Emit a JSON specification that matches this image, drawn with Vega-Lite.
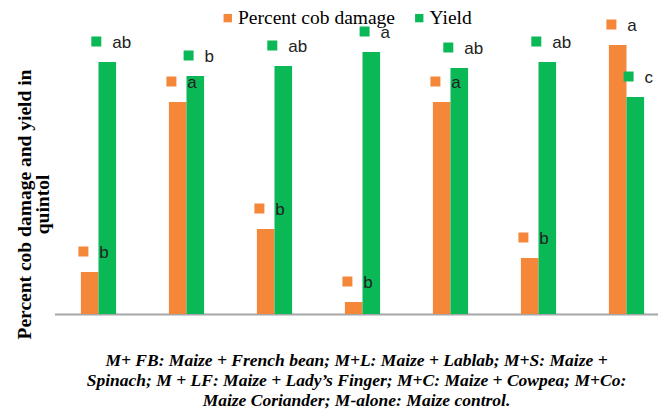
{
  "$schema": "https://vega.github.io/schema/vega-lite/v6.json",
  "width": 603.5,
  "height": 300,
  "autosize": {"type": "none"},
  "padding": {"left": 54.5, "top": 14, "right": 0, "bottom": 95},
  "background": "white",
  "config": {"view": {"stroke": null}, "font": "Liberation Serif, Times New Roman, Tinos, serif"},
  "resolve": {"axis": {"y": "independent"}},
  "data": {
    "values": [
      {"treatment": "M+FB", "damage": 4.2, "yield": 25.2, "sigDamage": "b", "sigYield": "ab"},
      {"treatment": "M+L", "damage": 21.2, "yield": 23.8, "sigDamage": "a", "sigYield": "b"},
      {"treatment": "M+S", "damage": 8.5, "yield": 24.8, "sigDamage": "b", "sigYield": "ab"},
      {"treatment": "M+LF", "damage": 1.2, "yield": 26.2, "sigDamage": "b", "sigYield": "a"},
      {"treatment": "M+C", "damage": 21.2, "yield": 24.6, "sigDamage": "a", "sigYield": "ab"},
      {"treatment": "M+Co", "damage": 5.6, "yield": 25.2, "sigDamage": "b", "sigYield": "ab"},
      {"treatment": "M-alone", "damage": 26.9, "yield": 21.7, "sigDamage": "a", "sigYield": "c"}
    ]
  },
  "encoding": {
    "x": {
      "field": "treatment",
      "type": "nominal",
      "sort": null,
      "scale": {"range": [0, 616], "paddingInner": 0.6, "paddingOuter": 0.3},
      "axis": {
        "labels": false,
        "ticks": false,
        "domainColor": "#a6a6a6",
        "domainWidth": 2,
        "title": [
          "M+ FB: Maize + French bean; M+L: Maize + Lablab; M+S: Maize +",
          "Spinach; M + LF: Maize + Lady’s Finger; M+C: Maize + Cowpea; M+Co:",
          "Maize Coriander; M-alone: Maize control."
        ],
        "titleFont": "Liberation Serif, Times New Roman, Tinos, serif",
        "titleFontSize": 17.5,
        "titleFontWeight": "bold",
        "titleFontStyle": "italic",
        "titleColor": "#000000",
        "titleLineHeight": 20.3,
        "titleAlign": "center",
        "titleX": 301.5,
        "titleY": 51,
        "titleBaseline": "alphabetic"
      }
    }
  },
  "layer": [
    {
      "mark": {"type": "bar", "width": 17.6, "xOffset": -8.8},
      "encoding": {
        "y": {
          "field": "damage",
          "type": "quantitative",
          "scale": {"domain": [0, 30]},
          "axis": {
            "title": ["Percent cob damage and yield in", "quintol"],
            "labels": false,
            "ticks": false,
            "domain": false,
            "grid": false,
            "titleFont": "Liberation Serif, Times New Roman, Tinos, serif",
            "titleFontSize": 19.5,
            "titleFontWeight": "bold",
            "titleColor": "#000000",
            "titleLineHeight": 18,
            "titleAngle": -90,
            "titleAlign": "center",
            "titleBaseline": "middle",
            "titleX": -30.5,
            "titleY": 190
          }
        },
        "color": {
          "datum": "Percent cob damage",
          "type": "nominal",
          "scale": {"domain": ["Percent cob damage", "Yield"], "range": ["#F4873A", "#0BB856"]},
          "legend": {
            "orient": "none",
            "direction": "horizontal",
            "legendX": 163.5,
            "legendY": -6,
            "title": null,
            "symbolType": "square",
            "symbolSize": 70,
            "symbolStrokeWidth": 0,
            "labelFont": "Liberation Serif, Times New Roman, Tinos, serif",
            "labelFontSize": 19.5,
            "labelColor": "#000000",
            "columnPadding": 13.5,
            "labelOffset": 0.5,
            "padding": 0,
            "labelLimit": 300
          }
        }
      }
    },
    {
      "mark": {"type": "bar", "width": 17.6, "xOffset": 8.8},
      "encoding": {
        "y": {"field": "yield", "type": "quantitative", "axis": null},
        "color": {"datum": "Yield", "type": "nominal"}
      }
    },
    {
      "mark": {"type": "point", "shape": "square", "size": 100, "filled": true, "opacity": 1, "color": "#F4873A", "strokeWidth": 0, "xOffset": -15.1, "yOffset": -20.5},
      "encoding": {"y": {"field": "damage", "type": "quantitative", "axis": null}}
    },
    {
      "mark": {"type": "text", "align": "left", "baseline": "alphabetic", "xOffset": -8.8, "dx": 9.5, "yOffset": -13.9, "font": "Liberation Sans, Arial, sans-serif", "fontSize": 17, "color": "#222222"},
      "encoding": {
        "y": {"field": "damage", "type": "quantitative", "axis": null},
        "text": {"field": "sigDamage"}
      }
    },
    {
      "transform": [{"filter": "length(datum.sigYield) == 1"}],
      "mark": {"type": "point", "shape": "square", "size": 100, "filled": true, "opacity": 1, "color": "#0BB856", "strokeWidth": 0, "xOffset": 2.1, "yOffset": -20.5},
      "encoding": {"y": {"field": "yield", "type": "quantitative", "axis": null}}
    },
    {
      "transform": [{"filter": "length(datum.sigYield) == 2"}],
      "mark": {"type": "point", "shape": "square", "size": 100, "filled": true, "opacity": 1, "color": "#0BB856", "strokeWidth": 0, "xOffset": -2.2, "yOffset": -20.5},
      "encoding": {"y": {"field": "yield", "type": "quantitative", "axis": null}}
    },
    {
      "transform": [{"filter": "length(datum.sigYield) == 1"}],
      "mark": {"type": "text", "align": "left", "baseline": "alphabetic", "xOffset": 8.8, "dx": 9.3, "yOffset": -13.9, "font": "Liberation Sans, Arial, sans-serif", "fontSize": 17, "color": "#222222"},
      "encoding": {
        "y": {"field": "yield", "type": "quantitative", "axis": null},
        "text": {"field": "sigYield"}
      }
    },
    {
      "transform": [{"filter": "length(datum.sigYield) == 2"}],
      "mark": {"type": "text", "align": "left", "baseline": "alphabetic", "xOffset": 8.8, "dx": 5, "yOffset": -13.9, "font": "Liberation Sans, Arial, sans-serif", "fontSize": 17, "color": "#222222"},
      "encoding": {
        "y": {"field": "yield", "type": "quantitative", "axis": null},
        "text": {"field": "sigYield"}
      }
    }
  ]
}
